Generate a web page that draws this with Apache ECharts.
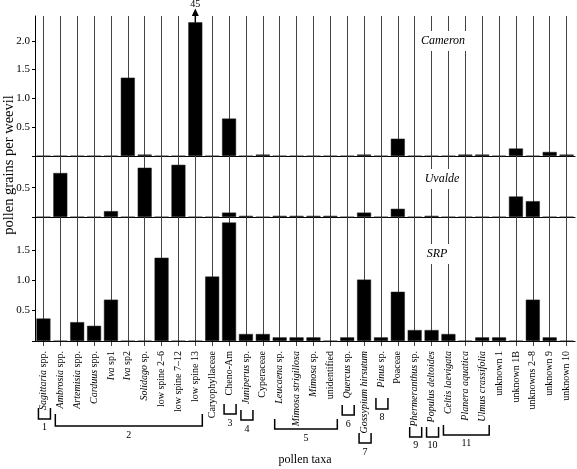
<!DOCTYPE html>
<html><head><meta charset="utf-8">
<script src="https://cdn.jsdelivr.net/npm/echarts@6/dist/echarts.min.js"></script>
<style>html,body{margin:0;padding:0;background:#fff}#c{width:577px;height:469px}</style>
</head><body><div id="c"></div>
<script>
// ---------- data ----------
const categories = ['Sagittaria spp.','Ambrosia spp.','Artemisia spp.','Carduus spp.','Iva sp1','Iva sp2','Solidago sp.','low spine 2–6','low spine 7–12','low spine 13','Caryophyllaceae','Cheno-Am','Juniperus sp.','Cyperaceae','Leucaena sp.','Mimosa strigillosa','Mimosa sp.','unidentified','Quercus sp.','Gossypium hirsutum','Pinus sp.','Poaceae','Phermeranthus sp.','Populus deltoides','Celtis laevigata','Planera aquatica','Ulmus crassifolia','unknown 1','unknown 1B','unknowns 2–8','unknown 9','unknown 10'];
const italicWords = ['Sagittaria','Ambrosia','Artemisia','Carduus','Iva','Solidago','Juniperus','Leucaena','Mimosa','strigillosa','Quercus','Gossypium','hirsutum','Pinus','Phermeranthus','Populus','deltoides','Celtis','laevigata','Planera','aquatica','Ulmus','crassifolia'];
const cameron = [0,0,0,0,0,1.36,0.025,0,0,45,0,0.65,0,0.025,0,0,0,0,0,0.025,0,0.30,0,0,0,0.025,0.025,0,0.13,0,0.07,0.025];
const uvalde  = [0,0.75,0,0,0.10,0,0.84,0,0.89,0,0,0.075,0.02,0,0.02,0.02,0.02,0.02,0,0.075,0,0.14,0,0.02,0,0,0,0,0.35,0.27,0,0];
const srp     = [0.37,0,0.31,0.25,0.68,0,0,1.37,0,0,1.06,1.95,0.115,0.115,0.06,0.06,0.06,0,0.06,1.01,0.06,0.81,0.18,0.18,0.115,0,0.06,0.06,0,0.68,0.06,0];
const cameronBreak = 2.32;          // bar drawn broken at this height, true value labelled
const siteNames = ['Cameron','Uvalde','SRP'];
const cameronTicks = [0,0.5,1.0,1.5,2.0];
const cameronTickLabels = [0.5,1.0,1.5,2.0];
const uvaldeTicks = [0,0.5];
const uvaldeTickLabels = [0.5];
const srpTicks = [0,0.5,1.0,1.5];
const srpTickLabels = [0.5,1.0,1.5];
const bracketNumbers = ['1','2','3','4','5','6','7','8','9','10','11'];
const bracketFirst = ['Sagittaria spp.','Ambrosia spp.','Cheno-Am','Juniperus sp.','Leucaena sp.','Quercus sp.','Gossypium hirsutum','Pinus sp.','Phermeranthus sp.','Populus deltoides','Celtis laevigata'];
const bracketLast  = ['Sagittaria spp.','low spine 13','Cheno-Am','Juniperus sp.','unidentified','Quercus sp.','Gossypium hirsutum','Pinus sp.','Phermeranthus sp.','Populus deltoides','Ulmus crassifolia'];

// ---------- layout ----------
const FONT = 'Liberation Serif';
const bracketTop    = [408,414,404,410,419,405,433,398,427,427,425];
const bracketBottom = [419,426,414,420,429,415,443,409,437,437,435];
const bracketLabelY = [427,435,423,429,438,424,452,417,445,445,443];
const grids = [
  {left:35, right:2, top:16,  height:140},
  {left:35, right:2, top:156, height:61},
  {left:35, right:2, top:217, height:124}
];
const yMax = [2.43, 1.04, 2.04];
const tickSets = [cameronTicks, uvaldeTicks, srpTicks];
const labelSets = [cameronTickLabels, uvaldeTickLabels, srpTickLabels];
const seriesData = [cameron.map(v => Math.min(v, cameronBreak)), uvalde, srp];

function fmtLabel(s){
  return s.split(' ').map(w => italicWords.includes(w) ? '{i|' + w + '}' : w).join(' ');
}

const xAxes = grids.map((g, i) => ({
  type:'category', gridIndex:i, data:categories, boundaryGap:true,
  axisLine:{show:true, lineStyle:{color:'#000', width:1.2}},
  axisTick:{show:true, alignWithLabel:true, inside:true, interval:0, length:g.height, lineStyle:{color:'#444', width:1}},
  axisLabel:{show:false}, splitLine:{show:false}, z:1
}));
xAxes.push({
  type:'category', gridIndex:2, data:categories, boundaryGap:true, position:'bottom',
  axisLine:{show:false},
  axisTick:{show:true, alignWithLabel:true, inside:false, interval:0, length:5, lineStyle:{color:'#444', width:1}},
  axisLabel:{show:true, interval:0, rotate:90, margin:10, fontFamily:FONT, fontSize:10, color:'#000',
    formatter: v => fmtLabel(v),
    rich:{i:{fontStyle:'italic', fontFamily:FONT, fontSize:10, color:'#000'}}}
});

const yAxes = grids.map((g, i) => ({
  type:'value', gridIndex:i, min:0, max:yMax[i],
  axisLine:{show:true, lineStyle:{color:'#000', width:1}},
  axisTick:{show:true, length:3, customValues:tickSets[i], lineStyle:{color:'#000'}},
  axisLabel:{show:true, customValues:labelSets[i], formatter: v => v.toFixed(1), fontFamily:FONT, fontSize:11, color:'#000', margin:5},
  splitLine:{show:false}
}));

const series = seriesData.map((d, i) => ({
  type:'bar', name:siteNames[i], xAxisIndex:i, yAxisIndex:i, data:d, barWidth:14,
  itemStyle:{color:'#000', borderColor:'#222', borderWidth:0.5}, z:3, animation:false
}));

const option = {
  animation:false, backgroundColor:'#fff',
  grid:grids, xAxis:xAxes, yAxis:yAxes, series:series
};

const chart = echarts.init(document.getElementById('c'), null, {renderer:'canvas'});
chart.setOption(option);

// ---------- annotations placed through the chart's own scales ----------
const gfx = [];
// panel labels
const panelPos = [[443,41],[442,179],[437,254]];
siteNames.forEach((n, i) => {
  gfx.push({type:'text', x:panelPos[i][0], y:panelPos[i][1], z:100,
    style:{text:n, fontFamily:FONT, fontSize:12, fontStyle:'italic', fill:'#000',
      align:'center', verticalAlign:'middle', backgroundColor:'#fff', padding:[4,2]}});
});
// off-scale arrow
const bi = cameron.findIndex(v => v > cameronBreak);
const bp = chart.convertToPixel({gridIndex:0}, [categories[bi], cameronBreak]);
gfx.push({type:'line', z:100, shape:{x1:bp[0], y1:bp[1], x2:bp[0], y2:15}, style:{stroke:'#000', lineWidth:1.5}});
gfx.push({type:'polygon', z:100, shape:{points:[[bp[0]-3.5,16],[bp[0]+3.5,16],[bp[0],8.5]]}, style:{fill:'#000'}});
gfx.push({type:'text', z:100, x:bp[0], y:4.5, style:{text:String(cameron[bi]), fontFamily:FONT, fontSize:10, fill:'#000', align:'center', verticalAlign:'middle'}});
// group brackets
bracketNumbers.forEach((n, k) => {
  const x1 = chart.convertToPixel({gridIndex:2}, [bracketFirst[k], 0])[0] - 5;
  const x2 = chart.convertToPixel({gridIndex:2}, [bracketLast[k], 0])[0] + 7;
  gfx.push({type:'polyline', z:100, shape:{points:[[x1,bracketTop[k]],[x1,bracketBottom[k]],[x2,bracketBottom[k]],[x2,bracketTop[k]]]},
    style:{stroke:'#000', lineWidth:1.5, fill:null}});
  gfx.push({type:'text', z:100, x:(x1+x2)/2, y:bracketLabelY[k], style:{text:n, fontFamily:FONT, fontSize:10, fill:'#000', align:'center', verticalAlign:'middle'}});
});
// axis titles
gfx.push({type:'text', z:5, x:9, y:165, rotation:Math.PI/2, style:{text:'pollen grains per weevil', fontFamily:FONT, fontSize:14.5, fill:'#000', align:'center', verticalAlign:'middle'}});
gfx.push({type:'text', z:100, x:305, y:460, style:{text:'pollen taxa', fontFamily:FONT, fontSize:12, fill:'#000', align:'center', verticalAlign:'middle'}});
chart.setOption({graphic:gfx});
</script></body></html>
